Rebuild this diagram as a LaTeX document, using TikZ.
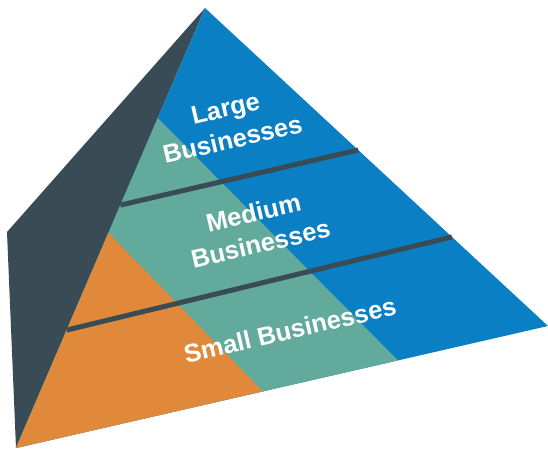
\documentclass[tikz,border=0pt]{standalone}
\usepackage{fontspec}
\setmainfont{Liberation Sans}
\usetikzlibrary{calc}
\definecolor{pblue}{RGB}{10,127,196}
\definecolor{pteal}{RGB}{98,170,156}
\definecolor{porange}{RGB}{224,137,58}
\definecolor{pdark}{RGB}{57,76,86}
\tikzset{
  lbl/.style={text=white,font=\bfseries\fontsize{25.5}{32}\selectfont,align=center,rotate=13,inner sep=0pt},
  divider/.style={draw=pdark,line width=5pt}
}
\begin{document}
\begin{tikzpicture}[x=1pt,y=-1pt]
\useasboundingbox (0,0) rectangle (548,450);
\coordinate (A) at (205,8);
\coordinate (B) at (16,448);
\coordinate (C) at (548,326);
\coordinate (D) at (7,232);
\coordinate (P1) at ($(A)!0.25!(B)$);
\coordinate (P2) at ($(A)!0.511!(B)$);
\coordinate (Q1) at ($(B)!0.718!(C)$);
\coordinate (Q2) at ($(B)!0.464!(C)$);
\coordinate (L1a) at ($(A)!0.732!(B)$);
\coordinate (L1b) at ($(A)!0.72!(C)$);
\coordinate (L2a) at ($(A)!0.448!(B)$);
\coordinate (L2b) at ($(A)!0.4465!(C)$);
\fill[pdark] (A) -- (D) -- (B) -- cycle;
\fill[pblue] (A) -- (B) -- (C) -- cycle;
\fill[pteal] (P1) -- (B) -- (Q1) -- cycle;
\fill[porange] (P2) -- (B) -- (Q2) -- cycle;
\draw[divider] (L1a) -- (L1b);
\draw[divider] (L2a) -- (L2b);
\node[lbl] (large) at (229,124) {Large\\Businesses};
\node[lbl] (medium) at (257,228) {Medium\\Businesses};
\node[lbl] (small) at (290,330) {Small Businesses};
\end{tikzpicture}
\end{document}
